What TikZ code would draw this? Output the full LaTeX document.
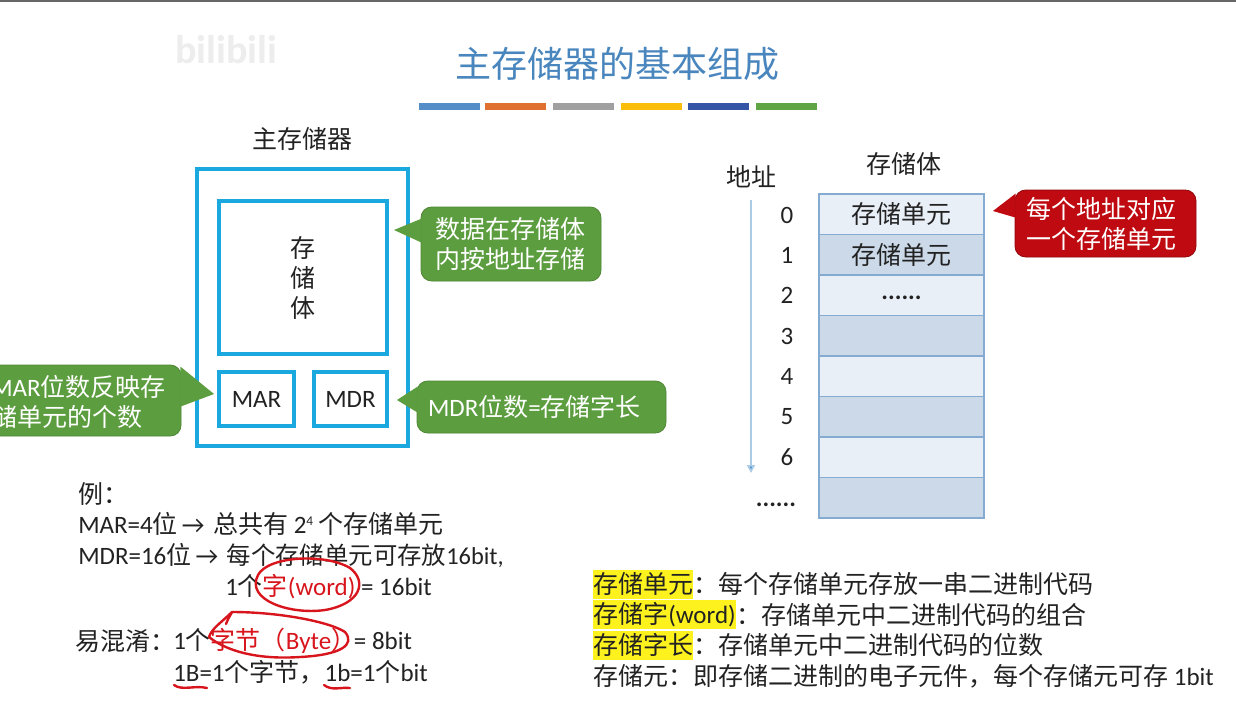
\documentclass[tikz,border=0pt]{standalone}
\usepackage{fontspec}
\setmainfont{Carlito}
\newfontfamily\cjkfont{Noto Sans CJK SC}
\newcommand{\zh}[1]{{\cjkfont #1}}
\usetikzlibrary{calc,arrows.meta}
\definecolor{ink}{HTML}{222222}
\definecolor{boxblue}{HTML}{1BA8DE}
\definecolor{calloutgreen}{HTML}{5C9E3F}
\definecolor{calloutred}{HTML}{BE0A10}
\definecolor{rowlight}{HTML}{E9EFF7}
\definecolor{rowdark}{HTML}{CBD9E9}
\definecolor{rowline}{HTML}{86ABD0}
\definecolor{penred}{HTML}{D8141C}
\definecolor{markerY}{HTML}{FDF21E}
\tikzset{
  body/.style={text=ink,inner sep=0pt,font=\fontsize{18.75pt}{22.5pt}\selectfont},
  textline/.style={body,anchor=west},
  blue box/.style={draw=boxblue,line width=2.3pt,fill=white,inner sep=0pt},
  calloutbox/.style={rounded corners=8pt,inner sep=0pt,align=center,text=white,font=\fontsize{18.75pt}{22.5pt}\selectfont},
  green call/.style={calloutbox,fill=calloutgreen,draw=calloutgreen!85!black,line width=0.6pt},
  red call/.style={calloutbox,fill=calloutred,draw=calloutred!75!black,line width=0.6pt},
  cell light/.style={draw=rowline,line width=1.4pt,fill=rowlight,minimum width=165*0.75pt,minimum height=40.5*0.75pt,inner sep=0pt,text=ink,font=\fontsize{18.75pt}{22.5pt}\selectfont},
  cell dark/.style={cell light,fill=rowdark},
  addr/.style={body},
  barbox/.style={minimum width=61*0.75pt,minimum height=7*0.75pt,inner sep=0pt},
  pen/.style={draw=penred,line width=1.8pt,line cap=round,line join=round},
  highlighted/.style={fill=markerY,inner sep=0pt,anchor=west,minimum height=29*0.75pt,text=ink,font=\fontsize{18.75pt}{22.5pt}\selectfont},
}
\begin{document}
\begin{tikzpicture}[x=0.75pt,y=-0.75pt]
\useasboundingbox (0,0) rectangle (1236,715);
\clip (0,0) rectangle (1236,715);
\fill[white] (0,0) rectangle (1236,715);
\fill[gray!80!black] (0,0) rectangle (1236,2);
% watermark
\node[text=black!7,inner sep=0pt,font=\bfseries\fontsize{30pt}{30pt}\selectfont] (wm) at (226,50) {bilibili};
% title
\node[inner sep=0pt,text={rgb,255:red,74;green,134;blue,190},font=\fontsize{27pt}{30pt}\selectfont] (title) at (617,64) {\zh{主存储器的基本组成}};
\node[barbox,fill={rgb,255:red,84;green,141;blue,200}] (b1) at (449,106) {};
\node[barbox,fill={rgb,255:red,224;green,112;blue,48}] (b2) at (515,106) {};
\node[barbox,fill={rgb,255:red,160;green,160;blue,160}] (b3) at (583,106) {};
\node[barbox,fill={rgb,255:red,250;green,190;blue,10}] (b4) at (651,106) {};
\node[barbox,fill={rgb,255:red,52;green,84;blue,165}] (b5) at (718,106) {};
\node[barbox,fill={rgb,255:red,95;green,165;blue,70}] (b6) at (786,106) {};
% main memory
\node[body] (mmtitle) at (302,139) {\zh{主存储器}};
\node[blue box,minimum width=211*0.75pt,minimum height=277*0.75pt] (outer) at (302.5,307.5) {};
\node[blue box,minimum width=168*0.75pt,minimum height=153*0.75pt,text=ink,font=\fontsize{18.75pt}{22.5pt}\selectfont,align=center] (store) at (303,277.5) {\zh{存}\\[0pt]\zh{储}\\[0pt]\zh{体}};
\node[blue box,minimum width=75*0.75pt,minimum height=54*0.75pt,text=ink,font=\fontsize{18.75pt}{22.5pt}\selectfont] (mar) at (256.5,399) {MAR};
\node[blue box,minimum width=73*0.75pt,minimum height=54*0.75pt,text=ink,font=\fontsize{18.75pt}{22.5pt}\selectfont] (mdr) at (350.5,399) {MDR};
% callouts
\coordinate (tipA) at (394,230);
\node[green call,minimum width=180*0.75pt,minimum height=74*0.75pt] (callA) at (511,244) {\zh{数据在存储体}\hspace*{1.5pt}\\\zh{内按地址存储}\hspace*{1.5pt}};
\fill[calloutgreen] (tipA) -- ($(callA.north west)+(1,12)$) -- ($(callA.north west)+(1,36)$) -- cycle;
\coordinate (tipB) at (214,394);
\node[green call,minimum width=191*0.75pt,minimum height=71*0.75pt] (callB) at (85.5,400.5) {};
\fill[calloutgreen] (tipB) -- ($(callB.north east)+(-1,2)$) -- ($(callB.north east)+(-1,42)$) -- cycle;
\node[textline,text=white] (callBa) at (-9,387) {MAR\zh{位数反映存}};
\node[textline,text=white] (callBb) at (-8,417) {\zh{储单元的个数}};
\coordinate (tipC) at (397,400);
\node[green call,minimum width=249*0.75pt,minimum height=52*0.75pt] (callC) at (541.5,407) {MDR\zh{位数}=\zh{存储字长}\hspace*{10.5pt}};
\fill[calloutgreen] (tipC) -- ($(callC.north west)+(1,6)$) -- ($(callC.north west)+(1,32)$) -- cycle;
% storage array
\node[body] (arrtitle) at (904,164) {\zh{存储体}};
\node[body] (addrtitle) at (751,177) {\zh{地址}};
\node[cell light] (c0) at (901.5,214.2) {\zh{存储单元}};
\node[cell dark]  (c1) at (901.5,254.7) {\zh{存储单元}};
\node[cell light] (c2) at (901.5,295.2) {\raisebox{-6.5pt}{\bfseries......}};
\node[cell dark]  (c3) at (901.5,335.7) {};
\node[cell light] (c4) at (901.5,376.2) {};
\node[cell dark]  (c5) at (901.5,416.7) {};
\node[cell light] (c6) at (901.5,457.2) {};
\node[cell dark]  (c7) at (901.5,497.7) {};
\node[addr] (a0) at (787,215) {0};
\node[addr] (a1) at (787,255) {1};
\node[addr] (a2) at (787,295) {2};
\node[addr] (a3) at (787,336) {3};
\node[addr] (a4) at (787,376) {4};
\node[addr] (a5) at (787,417) {5};
\node[addr] (a6) at (787,457) {6};
\node[addr] (a7) at (776,505) {\bfseries......};
\coordinate (arrA) at (751,200);
\coordinate (arrB) at (751,473);
\draw[draw={rgb,255:red,170;green,203;blue,230},line width=1.3pt,-{Triangle[length=6pt,width=6pt,fill={rgb,255:red,80;green,140;blue,200}]}] (arrA) -- (arrB);
\coordinate (tipD) at (993,211);
\node[red call,minimum width=181*0.75pt,minimum height=67*0.75pt] (callD) at (1105.5,223.5) {\zh{每个地址对应}\hspace*{6pt}\\\zh{一个存储单元}\hspace*{6pt}};
\fill[calloutred] (tipD) -- ($(callD.north west)+(1,4)$) -- ($(callD.north west)+(1,28)$) -- cycle;
% example text
\node[textline] (ex) at (78,494) {\zh{例：}};
\node[textline] (l1) at (78,524) {MAR=4\zh{位}\,→\,\hspace{3.25pt}\zh{总共有} 2\raisebox{6pt}{\fontsize{10pt}{10pt}\selectfont 4} \zh{个存储单元}};
\node[textline] (l2) at (78,555) {MDR=16\zh{位}\,→\,\hspace{3.25pt}{\fontsize{18.3pt}{22pt}\selectfont\zh{每个存储单元可存放}16bit,}};
\node[textline] (l3) at (225,587) {1\zh{个}\textcolor{penred}{\zh{字}(word)} = 16bit};
\node[textline] (l4) at (75,641) {\zh{易混淆：}};
\node[textline] (l5) at (173,641) {1\zh{个}\textcolor{penred}{\zh{字节（}Byte\zh{）}}\hspace{-6pt} = 8bit};
\node[textline] (l6) at (173,672) {1B=1\zh{个字节，}1b=1\zh{个}bit};
% red pen marks
\coordinate (wa) at (258,575);
\draw[pen] (wa) .. controls (268,556) and (325,553) .. (350,568) .. controls (368,582) and (360,604) .. (325,610) .. controls (290,615) and (245,600) .. (258,575);
\coordinate (ba) at (232,612);
\draw[pen] (ba) .. controls (280,612) and (330,622) .. (345,632) .. controls (356,645) and (340,655) .. (300,657) .. controls (255,660) and (225,650) .. (209,637) .. controls (212,628) and (222,622) .. (232,612);
\draw[pen] (ba) .. controls (229,618) and (227,620) .. (226,624);
\coordinate (ua) at (174,685);
\coordinate (ub) at (207,688);
\coordinate (uc) at (324,685);
\coordinate (ud) at (350,688);
\draw[pen] (ua) .. controls (182,691) and (195,685) .. (ub);
\draw[pen] (uc) .. controls (332,691) and (340,687) .. (ud);
% definitions
\node[highlighted] (m1) at (593,584) {\zh{存储单元}};
\node[textline] (d1) at (m1.east) {\zh{：每个存储单元存放一串二进制代码}};
\node[highlighted] (m2) at (593,614.5) {\zh{存储字}(word)};
\node[textline] (d2) at (m2.east) {\zh{：存储单元中二进制代码的组合}};
\node[highlighted] (m3) at (593,645) {\zh{存储字长}};
\node[textline] (d3) at (m3.east) {\zh{：存储单元中二进制代码的位数}};
\node[textline] (d4) at (593,676) {\zh{存储元：即存储二进制的电子元件，每个存储元可存} 1bit};
\end{tikzpicture}
\end{document}
